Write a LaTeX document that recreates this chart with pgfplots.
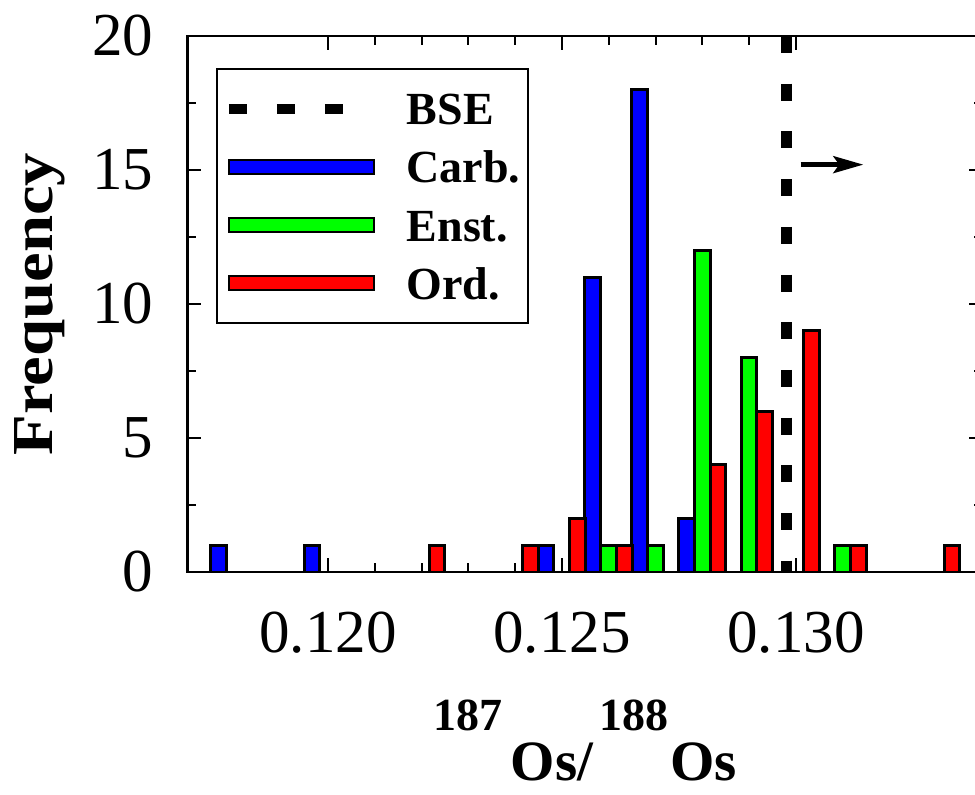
\documentclass[border=0pt]{standalone}
\usepackage{fontspec}
\setmainfont{Liberation Serif}
\usepackage{pgfplots}
\pgfplotsset{compat=1.18}
\usetikzlibrary{arrows.meta}
\definecolor{carb}{RGB}{0,0,255}
\definecolor{enst}{RGB}{0,255,0}
\definecolor{ordc}{RGB}{255,0,0}
\begin{document}
\begin{tikzpicture}
\begin{axis}[
  scale only axis, width=397.8pt, height=268pt,
  at={(0,0)}, anchor=south west,
  xmin=0.117, xmax=0.134, ymin=0, ymax=20,
  axis line style={line width=1.1pt},
  tick style={line width=1pt, black},
  major tick length=7pt, minor tick length=4.5pt,
  xtick={0.120,0.125,0.130}, xticklabels={0.120,0.125,0.130},
  minor x tick num=4,
  ytick={0,5,10,15,20}, minor y tick num=1,
  /pgf/number format/assume math mode=true,
  tick label style={font=\fontsize{30.5}{30.5}\selectfont},
  xticklabel style={anchor=center, inner sep=0pt, yshift=-30.5pt},
  yticklabel style={anchor=east, inner sep=0pt, xshift=-17pt},
  ylabel={\scalebox{1.15}[1]{Frequency}},
  ylabel style={at={(axis description cs:-0.186,0.5)}, anchor=center, font=\fontsize{29}{29}\selectfont\bfseries},
  xlabel={\fontsize{23}{23}\selectfont\raisebox{25pt}{187}\hspace{4pt}\fontsize{28.5}{28.5}\selectfont Os/\hspace{3pt}\fontsize{23}{23}\selectfont\raisebox{25pt}{188}\hspace{1pt}\fontsize{28.5}{28.5}\selectfont Os},
  xlabel style={at={(axis description cs:0.5,-0.389)}, anchor=base, font=\bfseries},
  legend cell align=left,
  legend style={at={(axis description cs:0.0358,0.9403)}, anchor=north west,
    draw=black, line width=1pt, font=\fontsize{23}{23}\selectfont\bfseries,
    inner xsep=3.5pt, inner ysep=11.85pt, row sep=13.1pt, column sep=0pt,
    nodes={inner sep=0pt, text height=16pt, text depth=0pt},
    /tikz/every odd column/.append style={column sep=16pt}},
]
\addplot[black, line width=5.3pt, dash pattern=on 8.5pt off 15.35pt,
  legend image code/.code={\draw[black, line width=4.8pt, dash pattern=on 9pt off 15pt] (0pt,0pt) -- (66pt,0pt);}]
  coordinates {(0.1298,20) (0.1298,0)};
\addlegendentry{BSE}
\addplot[ybar, bar width=0.000333, bar shift=-0.000333, fill=carb, draw=black, line width=1.5pt,
  legend image code/.code={\draw[fill=carb, draw=black, line width=1pt] (0pt,-3.4pt) rectangle (72.5pt,3.4pt);}]
  coordinates {(0.118,1) (0.120,1) (0.125,1) (0.126,11) (0.127,18) (0.128,2)};
\addlegendentry{Carb.}
\addplot[ybar, bar width=0.000333, bar shift=0, fill=enst, draw=black, line width=1.5pt,
  legend image code/.code={\draw[fill=enst, draw=black, line width=1pt] (0pt,-3.4pt) rectangle (72.5pt,3.4pt);}]
  coordinates {(0.126,1) (0.127,1) (0.128,12) (0.129,8) (0.131,1)};
\addlegendentry{Enst.}
\addplot[ybar, bar width=0.000333, bar shift=0.000333, fill=ordc, draw=black, line width=1.5pt,
  legend image code/.code={\draw[fill=ordc, draw=black, line width=1pt] (0pt,-3.4pt) rectangle (72.5pt,3.4pt);}]
  coordinates {(0.122,1) (0.124,1) (0.125,2) (0.126,1) (0.128,4) (0.129,6) (0.130,9) (0.131,1) (0.133,1)};
\addlegendentry{Ord.}
\addplot[black, line width=2.2pt, -{Stealth[length=15pt, width=8.5pt, inset=3pt]}, forget plot]
  coordinates {(0.1301,15.2) (0.13144,15.2)};
\end{axis}
\pgfresetboundingbox
\useasboundingbox (-93.75pt,-111pt) rectangle (393.75pt,286pt);
\end{tikzpicture}
\end{document}
